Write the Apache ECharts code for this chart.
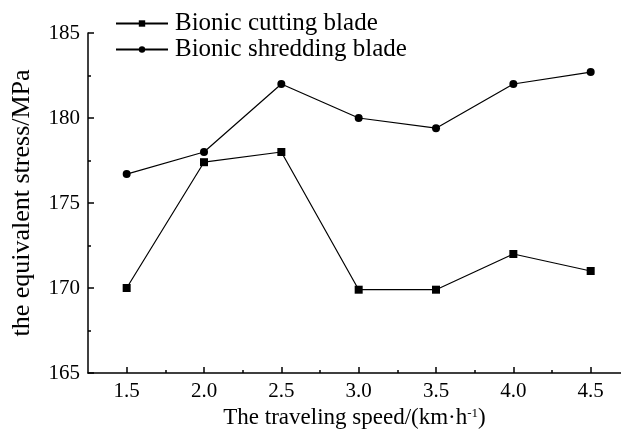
<!DOCTYPE html>
<html><head><meta charset="utf-8">
<script src="https://cdn.jsdelivr.net/npm/echarts@6/dist/echarts.min.js"></script>
<style>html,body{margin:0;padding:0;background:#fff}#c{width:621px;height:432px}</style>
</head><body><div id="c"></div>
<script>
const speeds = [1.5, 2.0, 2.5, 3.0, 3.5, 4.0, 4.5];
const cuttingBlade = [170.0, 177.4, 178.0, 169.9, 169.9, 172.0, 171.0];
const shreddingBlade = [176.7, 178.0, 182.0, 180.0, 179.4, 182.0, 182.7];
const xTickValues = [1.5, 2.0, 2.5, 3.0, 3.5, 4.0, 4.5];
const xMinorTickValues = [1.75, 2.25, 2.75, 3.25, 3.75, 4.25];
const seriesNames = ['Bionic cutting blade', 'Bionic shredding blade'];

const font = '"Liberation Serif", "Times New Roman", serif';
const chart = echarts.init(document.getElementById('c'), null, {renderer: 'canvas'});
const pairs = arr => speeds.map((s, i) => [s, arr[i]]);
const xMin = 1.25, xMax = 4.696;
chart.setOption({
  animation: false,
  backgroundColor: '#fff',
  grid: {left: 88, top: 33, bottom: 59, right: 0, containLabel: false, outerBoundsMode: 'none'},
  legend: {
    orient: 'vertical', left: 110, top: 6, itemWidth: 52, itemHeight: 8, itemGap: 1,
    textStyle: {fontFamily: font, fontSize: 25, color: '#000', padding: [0, 0, 0, 2]},
    data: seriesNames
  },
  xAxis: [{
    type: 'value', position: 'bottom', min: xMin, max: xMax,
    name: 'The traveling speed/(km·h{sup|-1})', nameLocation: 'middle', nameGap: 26,
    nameTextStyle: {fontFamily: font, fontSize: 23, color: '#000', verticalAlign: 'top',
      rich: {sup: {fontFamily: font, fontSize: 13, color: '#000', verticalAlign: 'top', padding: [0, 0, 9, 0]}}},
    axisLine: {lineStyle: {color: '#000', width: 1.5}},
    axisTick: {inside: true, length: 6, customValues: xTickValues, lineStyle: {color: '#000', width: 1.5}},
    axisLabel: {customValues: xTickValues, margin: 8, fontFamily: font, fontSize: 21, color: '#000',
      formatter: v => v.toFixed(1)},
    splitLine: {show: false}
  }, {
    type: 'value', position: 'bottom', min: xMin, max: xMax,
    axisLine: {show: false},
    axisTick: {inside: true, length: 3, customValues: xMinorTickValues, lineStyle: {color: '#000', width: 1.5}},
    axisLabel: {show: false},
    splitLine: {show: false}
  }],
  yAxis: {
    type: 'value', min: 165, max: 185, interval: 5,
    name: 'the equivalent stress/MPa', nameLocation: 'middle', nameGap: 53,
    nameTextStyle: {fontFamily: font, fontSize: 26, color: '#000'},
    axisLine: {show: true, lineStyle: {color: '#000', width: 1.5}},
    axisTick: {show: true, inside: true, length: 6, lineStyle: {color: '#000', width: 1.5}},
    minorTick: {show: true, splitNumber: 2, length: 3, lineStyle: {color: '#000', width: 1.5}},
    axisLabel: {margin: 8, fontFamily: font, fontSize: 21, color: '#000'},
    splitLine: {show: false}
  },
  series: [{
    name: seriesNames[0], type: 'line', data: pairs(cuttingBlade),
    symbol: 'rect', symbolSize: 8, showAllSymbol: true,
    lineStyle: {color: '#000', width: 1.2}, itemStyle: {color: '#000'}
  }, {
    name: seriesNames[1], type: 'line', data: pairs(shreddingBlade),
    symbol: 'circle', symbolSize: 8, showAllSymbol: true,
    lineStyle: {color: '#000', width: 1.2}, itemStyle: {color: '#000'}
  }]
});
</script></body></html>
